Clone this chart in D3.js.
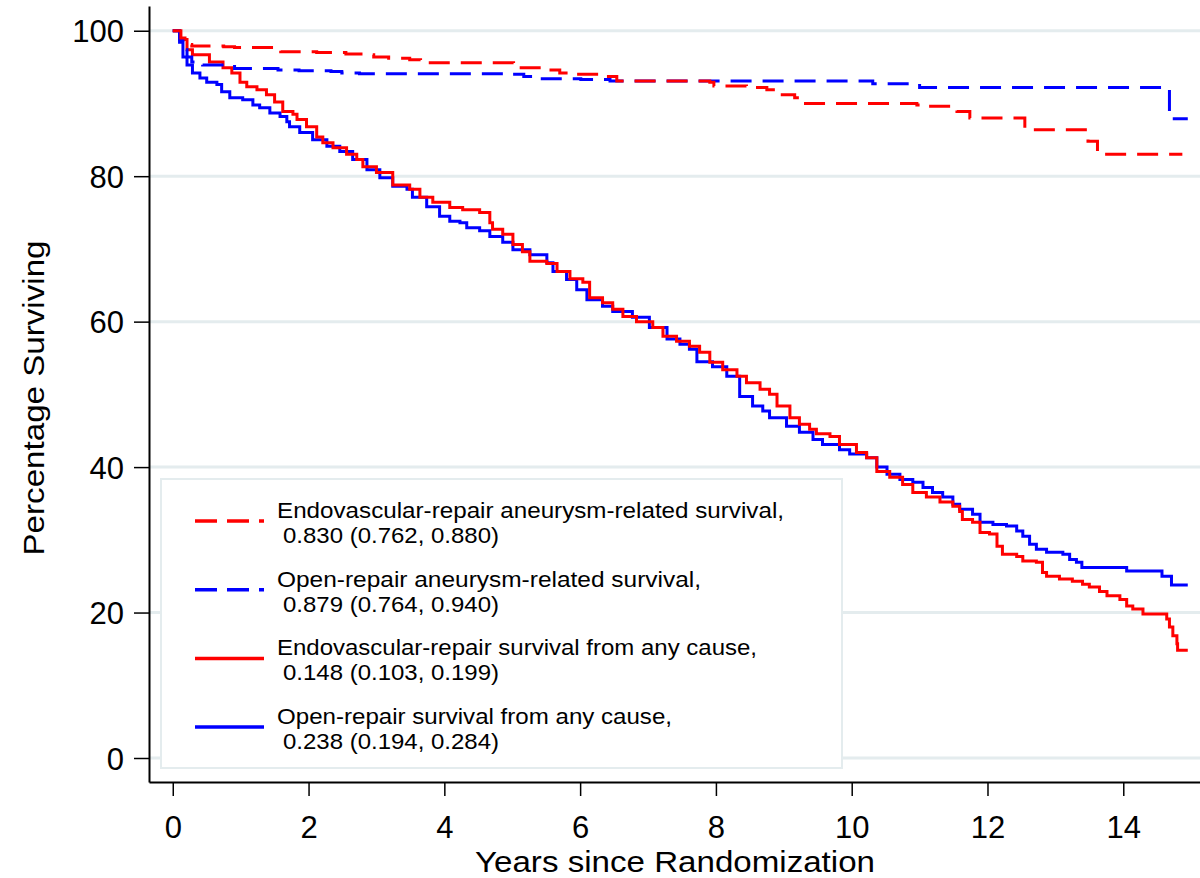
<!DOCTYPE html>
<html>
<head>
<meta charset="utf-8">
<script src="https://cdn.jsdelivr.net/npm/d3@7"></script>
<style>
    html, body { margin: 0; padding: 0; background: #fff; }
    svg { display: block; }
</style>
</head>
<body>
<svg id="chart" width="1200" height="878"></svg>
<script>
/* ============================================================
   Kaplan-Meier survival curves, endovascular vs open repair
   ============================================================ */

// [years since randomization, percentage surviving]
const endoAneurysm = [
    [0, 100], [0.12, 99.0], [0.25, 98.1], [0.28, 97.9], [0.75, 97.8], [0.91, 97.7],
    [1.59, 97.1], [2.12, 97.0], [2.55, 96.8], [2.81, 96.7], [2.96, 96.4], [3.18, 96.2],
    [3.49, 96.0], [3.65, 95.6], [5.02, 94.9], [5.49, 94.6], [5.70, 94.2], [5.91, 94.0],
    [6.33, 93.7], [6.54, 93.1], [7.91, 92.9], [7.97, 92.4], [8.45, 92.2], [8.75, 91.9],
    [8.94, 91.2], [9.16, 90.8], [9.28, 90.0], [10.96, 89.8], [11.08, 89.6], [11.55, 88.9],
    [11.74, 88.0], [12.55, 86.4], [13.48, 84.8], [13.62, 83.0], [14.87, 83.0]
];

const openAneurysm = [
    [0, 100], [0.10, 98.8], [0.15, 97.4], [0.21, 96.4], [0.28, 95.7], [0.44, 95.3],
    [0.91, 94.8], [1.55, 94.6], [1.86, 94.5], [2.33, 94.4], [2.49, 94.2], [2.75, 94.1],
    [4.96, 94.0], [5.17, 93.7], [5.27, 93.4], [6.01, 93.3], [6.44, 93.1], [10.31, 92.7],
    [11.00, 92.2], [14.68, 87.9], [14.95, 87.9]
];

const endoAnyCause = [
    [0, 100], [0.10, 98.8], [0.21, 97.4], [0.29, 96.7], [0.54, 95.7], [0.74, 94.9],
    [0.87, 94.2], [0.99, 92.9], [1.09, 92.3], [1.24, 91.9], [1.38, 91.2], [1.50, 90.2],
    [1.62, 88.9], [1.77, 88.5], [1.83, 87.8], [1.97, 86.8], [2.12, 85.4], [2.21, 84.6],
    [2.36, 83.9], [2.56, 83.0], [2.71, 82.3], [2.80, 81.3], [3.00, 80.5], [3.24, 78.8],
    [3.49, 78.2], [3.64, 77.1], [3.83, 76.4], [4.08, 75.7], [4.27, 75.4], [4.52, 75.0],
    [4.67, 73.6], [4.71, 72.7], [4.86, 72.0], [5.01, 70.6], [5.15, 69.6], [5.26, 68.3],
    [5.51, 68.0], [5.66, 66.9], [5.85, 65.9], [6.04, 65.4], [6.14, 63.3], [6.33, 62.6],
    [6.48, 61.7], [6.63, 60.7], [6.83, 60.0], [7.07, 59.2], [7.22, 58.0], [7.42, 57.3],
    [7.61, 56.6], [7.76, 55.8], [7.91, 54.4], [8.10, 53.4], [8.31, 52.5], [8.45, 51.6],
    [8.65, 50.7], [8.79, 50.0], [8.90, 48.4], [9.09, 46.8], [9.23, 45.9], [9.38, 45.2],
    [9.48, 44.6], [9.68, 44.2], [9.82, 43.1], [10.07, 42.0], [10.22, 41.3], [10.37, 39.4],
    [10.56, 38.6], [10.75, 37.6], [10.90, 36.5], [11.10, 35.9], [11.30, 35.2], [11.49, 34.6],
    [11.59, 33.9], [11.63, 32.8], [11.78, 32.4], [11.89, 31.0], [12.03, 30.8], [12.14, 29.1],
    [12.22, 28.0], [12.43, 27.7], [12.52, 27.1], [12.72, 26.9], [12.81, 25.5], [12.87, 25.0],
    [13.06, 24.6], [13.25, 24.3], [13.40, 23.9], [13.50, 23.5], [13.65, 22.9], [13.76, 22.3],
    [13.95, 21.8], [14.05, 20.9], [14.14, 20.5], [14.29, 19.8], [14.64, 19.1], [14.68, 18.0],
    [14.73, 16.8], [14.79, 15.7], [14.80, 14.8], [14.95, 14.8]
];

const openAnyCause = [
    [0, 100], [0.10, 98.4], [0.15, 96.4], [0.21, 95.3], [0.29, 94.2], [0.40, 93.5],
    [0.50, 92.9], [0.65, 92.6], [0.72, 91.6], [0.84, 90.8], [1.03, 90.5], [1.18, 89.8],
    [1.28, 89.4], [1.43, 88.7], [1.58, 88.2], [1.68, 87.5], [1.72, 86.8], [1.87, 86.0],
    [2.06, 85.0], [2.27, 84.1], [2.46, 83.4], [2.65, 82.3], [2.86, 80.9], [3.05, 79.8],
    [3.24, 78.6], [3.45, 78.2], [3.53, 77.1], [3.74, 75.8], [3.93, 74.5], [4.08, 73.8],
    [4.23, 73.6], [4.33, 72.9], [4.52, 72.5], [4.67, 71.7], [4.86, 70.9], [5.01, 69.9],
    [5.26, 69.2], [5.51, 68.1], [5.60, 66.9], [5.80, 65.8], [5.95, 64.4], [6.10, 63.0],
    [6.33, 62.1], [6.48, 61.4], [6.77, 60.6], [7.02, 59.2], [7.28, 57.6], [7.47, 56.9],
    [7.61, 56.2], [7.72, 54.5], [7.95, 53.8], [8.16, 52.5], [8.35, 49.7], [8.54, 48.4],
    [8.69, 47.7], [8.79, 46.8], [9.04, 45.6], [9.23, 44.8], [9.43, 43.8], [9.57, 43.1],
    [9.82, 42.4], [9.97, 41.8], [10.22, 41.3], [10.37, 40.0], [10.52, 39.0], [10.71, 38.3],
    [10.90, 37.9], [11.05, 37.2], [11.19, 36.5], [11.34, 35.9], [11.49, 34.9], [11.59, 34.2],
    [11.78, 33.5], [11.89, 32.4], [12.08, 32.1], [12.28, 31.9], [12.43, 31.2], [12.52, 30.5],
    [12.62, 29.4], [12.72, 28.7], [12.87, 28.3], [13.11, 28.0], [13.21, 27.3], [13.31, 26.9],
    [13.39, 26.2], [14.05, 25.7], [14.57, 25.0], [14.71, 23.8], [14.95, 23.8]
];

const xTicks = [0, 2, 4, 6, 8, 10, 12, 14];
const yTicks = [0, 20, 40, 60, 80, 100];

const legendLabels = [
    ['Endovascular-repair aneurysm-related survival,', '0.830 (0.762, 0.880)'],
    ['Open-repair aneurysm-related survival,', '0.879 (0.764, 0.940)'],
    ['Endovascular-repair survival from any cause,', '0.148 (0.103, 0.199)'],
    ['Open-repair survival from any cause,', '0.238 (0.194, 0.284)']
];

const xTitle = 'Years since Randomization';
const yTitle = 'Percentage Surviving';

const RED = '#ff0000';
const BLUE = '#0000ff';
const GRID = '#e4ecee';
const FONT = '"Liberation Sans", Arial, sans-serif';
const DASH = '21,11';

// series styling, in legend order
const series = [
    { data: endoAneurysm, color: RED, dash: DASH },
    { data: openAneurysm, color: BLUE, dash: DASH },
    { data: endoAnyCause, color: RED, dash: null },
    { data: openAnyCause, color: BLUE, dash: null }
];

const svg = d3.select('#chart');
svg.append('rect').attr('width', 1200).attr('height', 878).attr('fill', '#fff');

const x = d3.scaleLinear().domain([-0.35, 15.13]).range([149, 1200]);
const y = d3.scaleLinear().domain([-3.3, 103.4]).range([782, 6]);

// Grid lines
svg.append('g')
    .selectAll('line')
    .data(yTicks)
    .enter()
    .append('line')
    .attr('x1', x.range()[0])
    .attr('x2', x.range()[1])
    .attr('y1', d => y(d))
    .attr('y2', d => y(d))
    .attr('stroke', GRID)
    .attr('stroke-width', 3);

// Curves (draw order: solids first, red solid over blue)
const line = d3.line()
    .x(d => x(d[0]))
    .y(d => y(d[1]))
    .curve(d3.curveStepAfter);

[series[3], series[2], series[1], series[0]].forEach(s => {
    svg.append('path')
        .datum(s.data)
        .attr('d', line)
        .attr('fill', 'none')
        .attr('stroke', s.color)
        .attr('stroke-width', 3)
        .attr('stroke-dasharray', s.dash);
});

// Axes
const yAxis = svg.append('g')
    .attr('transform', `translate(${x.range()[0]},0)`)
    .call(d3.axisLeft(y).tickValues(yTicks).tickSize(15).tickSizeOuter(0).tickPadding(10));

const xAxis = svg.append('g')
    .attr('transform', `translate(0,${y.range()[0]})`)
    .call(d3.axisBottom(x).tickValues(xTicks).tickSize(14).tickSizeOuter(0).tickPadding(20));

[yAxis, xAxis].forEach(a => {
    a.select('.domain').attr('stroke', '#000').attr('stroke-width', 2);
    a.selectAll('.tick line').attr('stroke', '#000').attr('stroke-width', 1.5);
    a.selectAll('.tick text')
        .attr('fill', '#000')
        .style('font-family', FONT)
        .style('font-size', '31px');
});
yAxis.selectAll('.tick text').attr('dy', '0.36em');

// Axis titles
svg.append('text')
    .attr('x', 675)
    .attr('y', 872)
    .attr('text-anchor', 'middle')
    .attr('textLength', 400)
    .attr('lengthAdjust', 'spacingAndGlyphs')
    .style('font-family', FONT)
    .style('font-size', '29px')
    .text(xTitle);

svg.append('text')
    .attr('transform', 'translate(44,398) rotate(-90)')
    .attr('text-anchor', 'middle')
    .attr('textLength', 315)
    .attr('lengthAdjust', 'spacingAndGlyphs')
    .style('font-family', FONT)
    .style('font-size', '29px')
    .text(yTitle);

// Legend
const legend = svg.append('g');
legend.append('rect')
    .attr('x', 161)
    .attr('y', 479)
    .attr('width', 681)
    .attr('height', 289)
    .attr('fill', '#fff')
    .attr('stroke', GRID)
    .attr('stroke-width', 2);

const rowGap = 68.7;
const titleWidths = [507, 424, 480, 395];

series.forEach((s, i) => {
    const top = i * rowGap;
    legend.append('line')
        .attr('x1', 195)
        .attr('x2', 264)
        .attr('y1', 521 + top)
        .attr('y2', 521 + top)
        .attr('stroke', s.color)
        .attr('stroke-width', 3.5)
        .attr('stroke-dasharray', s.dash ? '22,10' : null);

    legend.append('text')
        .attr('x', 277)
        .attr('y', 518 + top)
        .attr('textLength', titleWidths[i])
        .attr('lengthAdjust', 'spacingAndGlyphs')
        .style('font-family', FONT)
        .style('font-size', '22px')
        .text(legendLabels[i][0]);

    legend.append('text')
        .attr('x', 283)
        .attr('y', 543 + top)
        .attr('textLength', 216)
        .attr('lengthAdjust', 'spacingAndGlyphs')
        .style('font-family', FONT)
        .style('font-size', '22px')
        .text(legendLabels[i][1]);
});
</script>
</body>
</html>
